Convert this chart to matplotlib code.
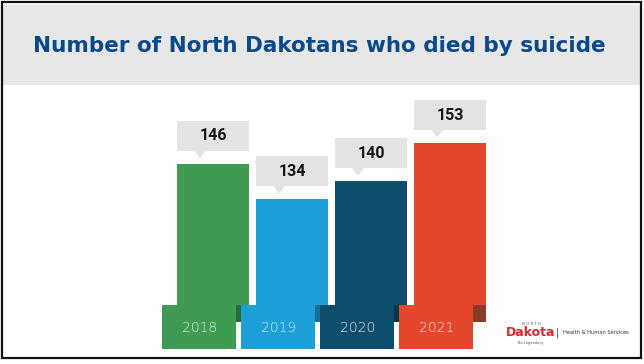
import matplotlib.pyplot as plt
from matplotlib.patches import Rectangle

years = ["2018", "2019", "2020", "2021"]
deaths = [146, 134, 140, 153]
bar_colors = ["#3f9a52", "#1d9fd8", "#0f4d6c", "#e5472c"]
shadow_colors = ["#2a6b38", "#14709a", "#0a3448", "#8a3b2a"]

title = "Number of North Dakotans who died by suicide"

fig = plt.figure(figsize=(6.44, 3.64), dpi=100)
fig.patch.set_facecolor("white")

# grey title banner and slide frame
fig.patches.append(Rectangle((0.005, 1 - 85 / 364), 0.99, 80 / 364,
                             transform=fig.transFigure, facecolor="#e7e7e7",
                             edgecolor="none", zorder=0))
fig.patches.append(Rectangle((2 / 644, 1 - 358 / 364), 639 / 644, 356 / 364,
                             transform=fig.transFigure, facecolor="none",
                             edgecolor="#111111", linewidth=1.6, zorder=5))
fig.text(33 / 644, 1 - 52 / 364, title, fontsize=15.5, fontweight="bold",
         family="DejaVu Sans", color="#0b4a8a", va="baseline", ha="left")

ax = fig.add_axes([134 / 644, 42 / 364, 395 / 644, 232 / 364])
ax.set_xlim(-1, 4)
ax.set_ylim(92.3, 171)
ax.axis("off")

base = 92.3
x = list(range(len(years)))
bw = 72 / 79
box_dx = -13.8 / 79
box_top = 98.1
box_bottom = 83.1
call_gap = 4.4
call_h = 10.2

# bars down to the baseline, darker tab where they run behind the year boxes
ax.bar(x, [box_top - base] * 4, bottom=base, width=bw, color=shadow_colors, zorder=1)
ax.bar(x, [v - box_top for v in deaths], bottom=box_top, width=bw,
       color=bar_colors, zorder=2)

# year tabs under each bar
ax.bar([i + box_dx for i in x], [box_top - box_bottom] * 4, bottom=box_bottom,
       width=0.93, color=bar_colors, zorder=3, clip_on=False)
for i, yr in zip(x, years):
    ax.text(i + box_dx, (box_top + box_bottom) / 2 - 0.3, yr, fontsize=10,
            color="#e4ecea", ha="center", va="center", zorder=4,
            family="DejaVu Sans", fontweight="light", clip_on=False)

# value callouts with a small pointer
for i, v in zip(x, deaths):
    b = v + call_gap
    ax.bar(i, call_h, bottom=b, width=bw, color="#e3e3e3", zorder=3)
    px = i - 13 / 79
    ax.fill([px - 0.06, px + 0.06, px], [b, b, b - 2.2], color="#e3e3e3", zorder=3)
    ax.text(i, b + call_h / 2, str(v), fontsize=11.5, fontweight="bold",
            family="Roboto", color="#151515", ha="center", va="center", zorder=4)

# agency logo, bottom right
fig.text(531 / 644, 1 - 324 / 364, "N O R T H", fontsize=2.8, color="#555555",
         ha="center", va="center")
fig.text(531 / 644, 1 - 333 / 364, "Dakota", fontsize=9, fontweight="bold",
         color="#d9262e", ha="center", va="center")
fig.text(531 / 644, 1 - 343 / 364, "Be Legendary.", fontsize=2.6, color="#555555",
         ha="center", va="center")
fig.text(557 / 644, 1 - 333 / 364, "|", fontsize=7, color="#444444",
         ha="center", va="center")
fig.text(563 / 644, 1 - 333 / 364, "Health & Human Services", fontsize=3.7,
         color="#333333", ha="left", va="center")

fig.savefig("out.png", dpi=100)
